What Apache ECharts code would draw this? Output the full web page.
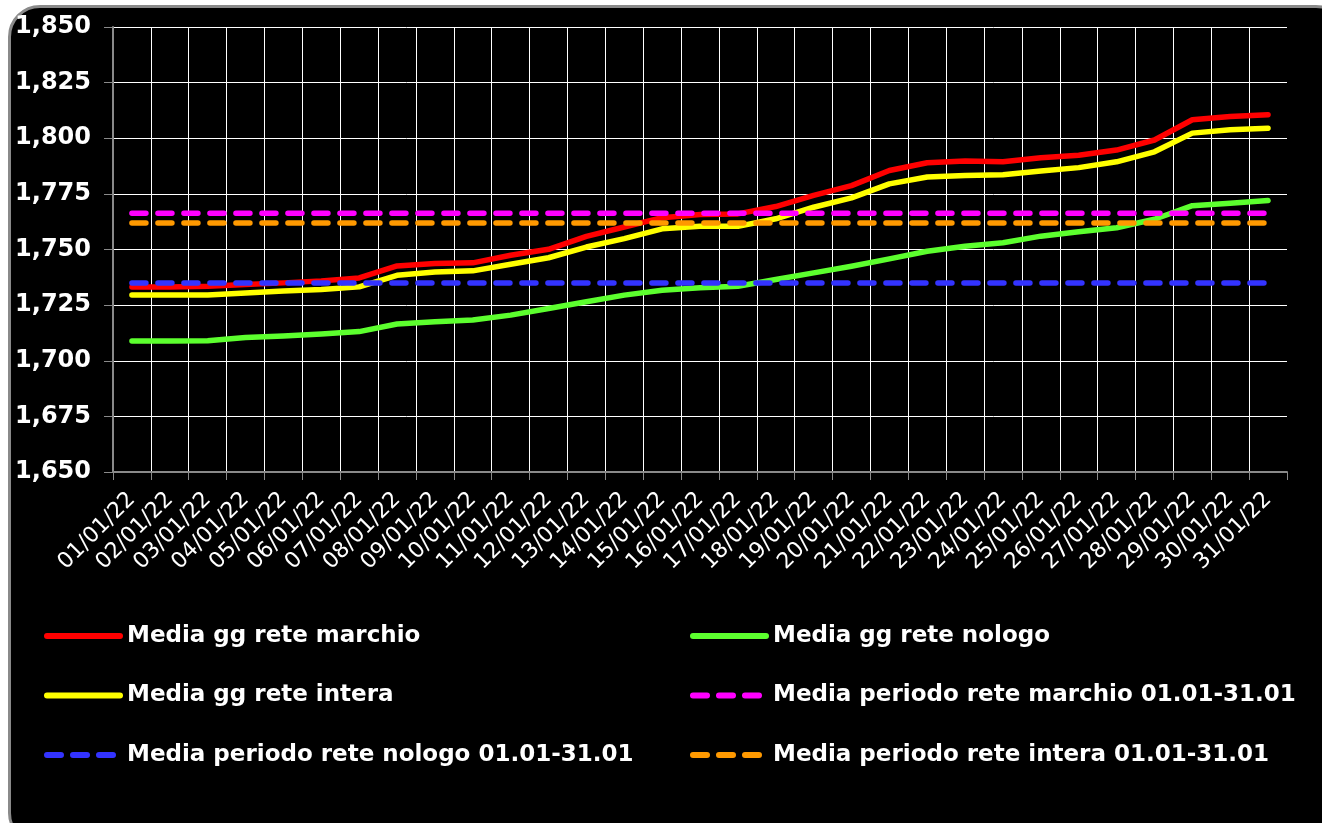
<!DOCTYPE html>
<html>
<head>
<meta charset="utf-8">
<script src="https://cdn.jsdelivr.net/npm/echarts@6/dist/echarts.min.js"></script>
<style>
html,body{margin:0;padding:0;background:#fff;width:1322px;height:823px;overflow:hidden;}
#frame{position:absolute;left:8px;top:5px;width:1340px;height:840px;background:#000;border:3px solid #8a8a8a;border-radius:32px;box-sizing:border-box;}
#chart{position:absolute;left:0;top:0;width:1322px;height:823px;}
</style>
</head>
<body>
<div id="frame"></div>
<div id="chart"></div>
<script>
const dates = ['01/01/22','02/01/22','03/01/22','04/01/22','05/01/22','06/01/22','07/01/22','08/01/22','09/01/22','10/01/22',
  '11/01/22','12/01/22','13/01/22','14/01/22','15/01/22','16/01/22','17/01/22','18/01/22','19/01/22','20/01/22',
  '21/01/22','22/01/22','23/01/22','24/01/22','25/01/22','26/01/22','27/01/22','28/01/22','29/01/22','30/01/22','31/01/22'];

const mediaGgMarchio = [1733.2,1733.2,1733.5,1734.3,1735.0,1735.9,1737.2,1742.6,1743.7,1744.0,
  1747.4,1750.1,1755.9,1760.1,1764.3,1765.7,1766.0,1769.3,1774.3,1778.7,
  1785.5,1789.0,1789.8,1789.4,1791.2,1792.4,1794.7,1799.2,1808.3,1809.8,1810.6];

const mediaGgNologo = [1708.9,1708.9,1709.0,1710.5,1711.1,1712.0,1713.1,1716.5,1717.5,1718.3,
  1720.5,1723.5,1726.5,1729.5,1731.7,1732.8,1733.5,1736.5,1739.5,1742.5,
  1745.8,1749.2,1751.5,1753.0,1756.0,1758.0,1759.8,1763.6,1769.7,1770.8,1772.0];

const mediaGgIntera = [1729.5,1729.5,1729.5,1730.5,1731.4,1732.0,1733.2,1738.4,1739.9,1740.4,
  1743.4,1746.3,1751.1,1754.9,1759.3,1760.5,1760.4,1763.8,1769.0,1773.2,
  1779.5,1782.6,1783.3,1783.6,1785.3,1786.8,1789.4,1793.9,1802.3,1803.8,1804.5];

const periodoMarchio = 1766.3;
const periodoNologo = 1735.0;
const periodoIntera = 1761.9;

const yTicks = [1650,1675,1700,1725,1750,1775,1800,1825,1850];

const names = ['Media gg rete marchio','Media gg rete nologo','Media gg rete intera',
  'Media periodo rete marchio 01.01-31.01','Media periodo rete nologo 01.01-31.01','Media periodo rete intera 01.01-31.01'];

const FONT = 'DejaVu Sans';
const chart = echarts.init(document.getElementById('chart'));

function solid(name, color, data){
  return {name, type:'line', data, symbol:'none', showSymbol:false,
    lineStyle:{color, width:5.5, cap:'round', join:'round'}, itemStyle:{color}, animation:false};
}
function dashed(name, color, value){
  return {name, type:'line', data: dates.map(() => value), symbol:'none', showSymbol:false,
    lineStyle:{color, width:5.5, type:[14,12], cap:'round'}, itemStyle:{color}, animation:false};
}

const legendCommon = {
  orient:'vertical', itemWidth:73, itemHeight:14, itemGap:31.5,
  textStyle:{color:'#fff', fontFamily:FONT, fontWeight:'bold', fontSize:23, lineHeight:28, padding:[0,0,0,2]},
  lineStyle:{width:6}, itemStyle:{opacity:0}, selectedMode:false
};

chart.setOption({
  backgroundColor:'transparent',
  animation:false,
  grid:{left:113, right:35, top:27, bottom:351, containLabel:false},
  legend:[
    Object.assign({left:39, top:617, data:[names[0], names[2], names[4]]}, legendCommon),
    Object.assign({left:685, top:617, data:[names[1], names[3], names[5]]}, legendCommon)
  ],
  xAxis:{
    type:'category', data:dates, boundaryGap:true,
    axisLine:{lineStyle:{color:'#8a8a8a', width:2}},
    axisTick:{show:true, length:8, lineStyle:{color:'#8a8a8a', width:1}},
    axisLabel:{rotate:45, interval:0, color:'#fff', fontFamily:FONT, fontSize:22, margin:24},
    splitLine:{show:true, showMaxLine:false, interval:0, lineStyle:{color:'#fff', width:1}}
  },
  yAxis:{
    type:'value', min:yTicks[0], max:yTicks[yTicks.length-1], interval:25,
    axisLine:{show:true, lineStyle:{color:'#8a8a8a', width:2}},
    axisTick:{show:true, length:9, lineStyle:{color:'#8a8a8a', width:1}},
    axisLabel:{color:'#fff', fontFamily:FONT, fontWeight:'bold', fontSize:24, margin:22,
      formatter: v => v.toLocaleString('en-US')},
    splitLine:{show:true, lineStyle:{color:'#fff', width:1}}
  },
  series:[
    solid(names[0], '#ff0000', mediaGgMarchio),
    solid(names[1], '#5cff2e', mediaGgNologo),
    solid(names[2], '#ffff00', mediaGgIntera),
    dashed(names[3], '#ff00ff', periodoMarchio),
    dashed(names[4], '#3333ff', periodoNologo),
    dashed(names[5], '#ff9900', periodoIntera)
  ]
});
</script>
</body>
</html>
